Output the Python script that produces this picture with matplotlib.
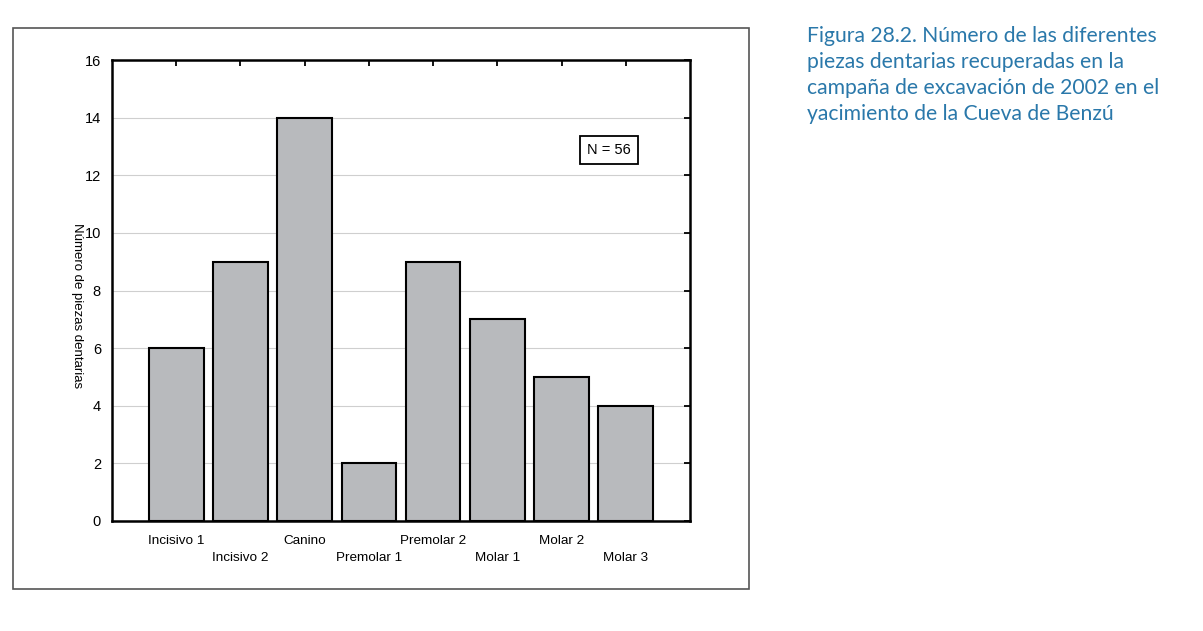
import matplotlib
matplotlib.use('Agg')
import matplotlib.pyplot as plt
from matplotlib.patches import Rectangle

categorias = ['Incisivo 1', 'Incisivo 2', 'Canino', 'Premolar 1',
              'Premolar 2', 'Molar 1', 'Molar 2', 'Molar 3']
valores = [6, 9, 14, 2, 9, 7, 5, 4]
y_ticks = [0, 2, 4, 6, 8, 10, 12, 14, 16]

plt.rcParams['font.family'] = ['Liberation Sans', 'DejaVu Sans']

fig = plt.figure(figsize=(12.03, 6.31), dpi=100)
ax = fig.add_axes([112 / 1203, 1 - 521 / 631, 578 / 1203, 461 / 631])

x = list(range(len(categorias)))
ax.bar(x, valores, width=0.85, color='#b8babd', edgecolor='black', linewidth=1.5, zorder=3)

ax.set_xlim(-1, 8)
ax.set_ylim(0, 16)
ax.set_yticks(y_ticks)
ax.set_xticks(x)
# etiquetas alternadas en dos filas
etiquetas = [c if i % 2 == 0 else '\n' + c for i, c in enumerate(categorias)]
ax.set_xticklabels(etiquetas, fontsize=9.7, linespacing=1.62)
ax.tick_params(axis='x', direction='in', top=True, length=4, width=1.3, pad=10)
ax.tick_params(axis='y', direction='in', left=False, right=True, length=4, width=1.3, labelsize=10.5, pad=8)

ax.grid(axis='y', color='#cfcfcf', linewidth=0.8, zorder=0)
for s in ax.spines.values():
    s.set_linewidth(1.8)

ax.set_ylabel('Número de piezas dentarias', fontsize=9.5, rotation=-90, va='center')
ax.yaxis.set_label_coords(-0.061, 0.467)

ax.text(6.74, 12.88, 'N = 56', fontsize=10.5, ha='center', va='center',
        bbox=dict(boxstyle='square,pad=0.5', facecolor='white', edgecolor='black', linewidth=1.3))

# marco exterior
fig.patches.append(Rectangle((13 / 1203, 1 - 589 / 631), 736 / 1203, 561 / 631,
                             transform=fig.transFigure, fill=False,
                             edgecolor='#555555', linewidth=1.2))

fig.text(807 / 1203, 1 - 26 / 631,
         'Figura 28.2. Número de las diferentes\n'
         'piezas dentarias recuperadas en la\n'
         'campaña de excavación de 2002 en el\n'
         'yacimiento de la Cueva de Benzú',
         fontsize=15.2, color='#2a78aa', ha='left', va='top', linespacing=1.38,
         family=['Lato', 'DejaVu Sans'])

fig.savefig('out.png', dpi=100)
